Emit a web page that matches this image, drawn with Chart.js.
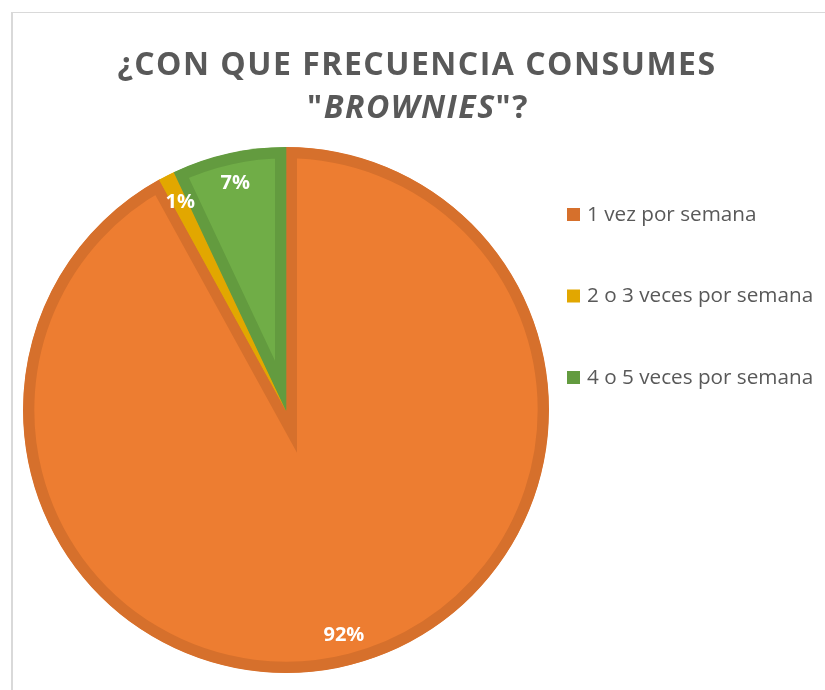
<!DOCTYPE html>
<html>
<head>
<meta charset="utf-8">
<script src="https://cdn.jsdelivr.net/npm/chart.js@4.4.1/dist/chart.umd.min.js"></script>
<style>
    body { margin: 0; background: #ffffff; }
    canvas { display: block; }
</style>
</head>
<body>
<canvas id="brownieChart" width="825" height="690"></canvas>
<script>
// Survey answers and their share of respondents (%)
const categories = ['1 vez por semana', '2 o 3 veces por semana', '4 o 5 veces por semana'];
const shares = [92, 1, 7];
const fillColors = ['#ED7D31', '#F0B700', '#70AD47'];
const edgeColors = ['#D6702C', '#E2A700', '#639B3F'];

const TEXT_GREY = '#595959';
const FONT = '"Open Sans", sans-serif';

// Frame lines along the top and left edge
const framePlugin = {
    id: 'frame',
    beforeDraw(chart) {
        const c = chart.ctx;
        c.save();
        c.fillStyle = '#D9D9D9';
        c.fillRect(11, 12, chart.width - 11, 1);
        c.fillRect(11, 12, 2, chart.height - 12);
        c.restore();
    }
};

// Two-line title, the product name in bold italic
const titlePlugin = {
    id: 'twoLineTitle',
    afterDraw(chart) {
        const c = chart.ctx;
        c.save();
        c.fillStyle = TEXT_GREY;
        c.textBaseline = 'alphabetic';
        c.letterSpacing = '1.5px';
        c.textAlign = 'center';
        c.font = 'bold 32px ' + FONT;
        c.fillText('¿CON QUE FRECUENCIA CONSUMES', 417, 75);

        const parts = [
            { text: '"', font: 'bold 32px ' + FONT },
            { text: 'BROWNIES', font: 'italic bold 32px ' + FONT },
            { text: '"?', font: 'bold 32px ' + FONT }
        ];
        let total = 0;
        parts.forEach(p => { c.font = p.font; p.w = c.measureText(p.text).width; total += p.w; });
        let x = 418 - total / 2;
        c.textAlign = 'left';
        parts.forEach(p => {
            c.font = p.font;
            c.fillText(p.text, x, 118);
            x += p.w;
        });
        c.restore();
    }
};

// Legend on the right, widely spaced
const sideLegendPlugin = {
    id: 'sideLegend',
    afterDraw(chart) {
        const c = chart.ctx;
        c.save();
        c.font = '20.7px ' + FONT;
        c.textBaseline = 'middle';
        c.textAlign = 'left';
        categories.forEach((label, i) => {
            const y = 215 + i * 81.5;
            c.fillStyle = edgeColors[i];
            c.fillRect(567, y - 7, 13, 13);
            c.fillStyle = TEXT_GREY;
            c.fillText(label, 587, y);
        });
        c.restore();
    }
};

// Percent labels near the outer edge of every slice
const sliceLabelPlugin = {
    id: 'sliceLabels',
    afterDatasetsDraw(chart) {
        const c = chart.ctx;
        const meta = chart.getDatasetMeta(0);
        c.save();
        c.font = 'bold 20px ' + FONT;
        c.fillStyle = '#ffffff';
        c.textAlign = 'center';
        c.textBaseline = 'middle';
        meta.data.forEach((arc, i) => {
            const p = arc.getProps(['x', 'y', 'startAngle', 'endAngle', 'outerRadius'], true);
            const mid = (p.startAngle + p.endAngle) / 2;
            const r = p.outerRadius * 0.885;
            c.fillText(shares[i] + '%', p.x + Math.cos(mid) * r, p.y + Math.sin(mid) * r);
        });
        c.restore();
    }
};

const ctx = document.getElementById('brownieChart').getContext('2d');

const brownieChart = new Chart(ctx, {
    type: 'pie',
    data: {
        labels: categories,
        datasets: [{
            data: shares,
            backgroundColor: fillColors,
            borderColor: edgeColors,
            borderWidth: 11,
            borderAlign: 'inner',
            borderJoinStyle: 'miter'
        }]
    },
    options: {
        responsive: false,
        animation: false,
        layout: {
            padding: { left: 22, right: 275, top: 147, bottom: 17 }
        },
        plugins: {
            legend: { display: false },
            title: { display: false },
            tooltip: { enabled: false }
        }
    },
    plugins: [framePlugin, titlePlugin, sideLegendPlugin, sliceLabelPlugin]
});
</script>
</body>
</html>
